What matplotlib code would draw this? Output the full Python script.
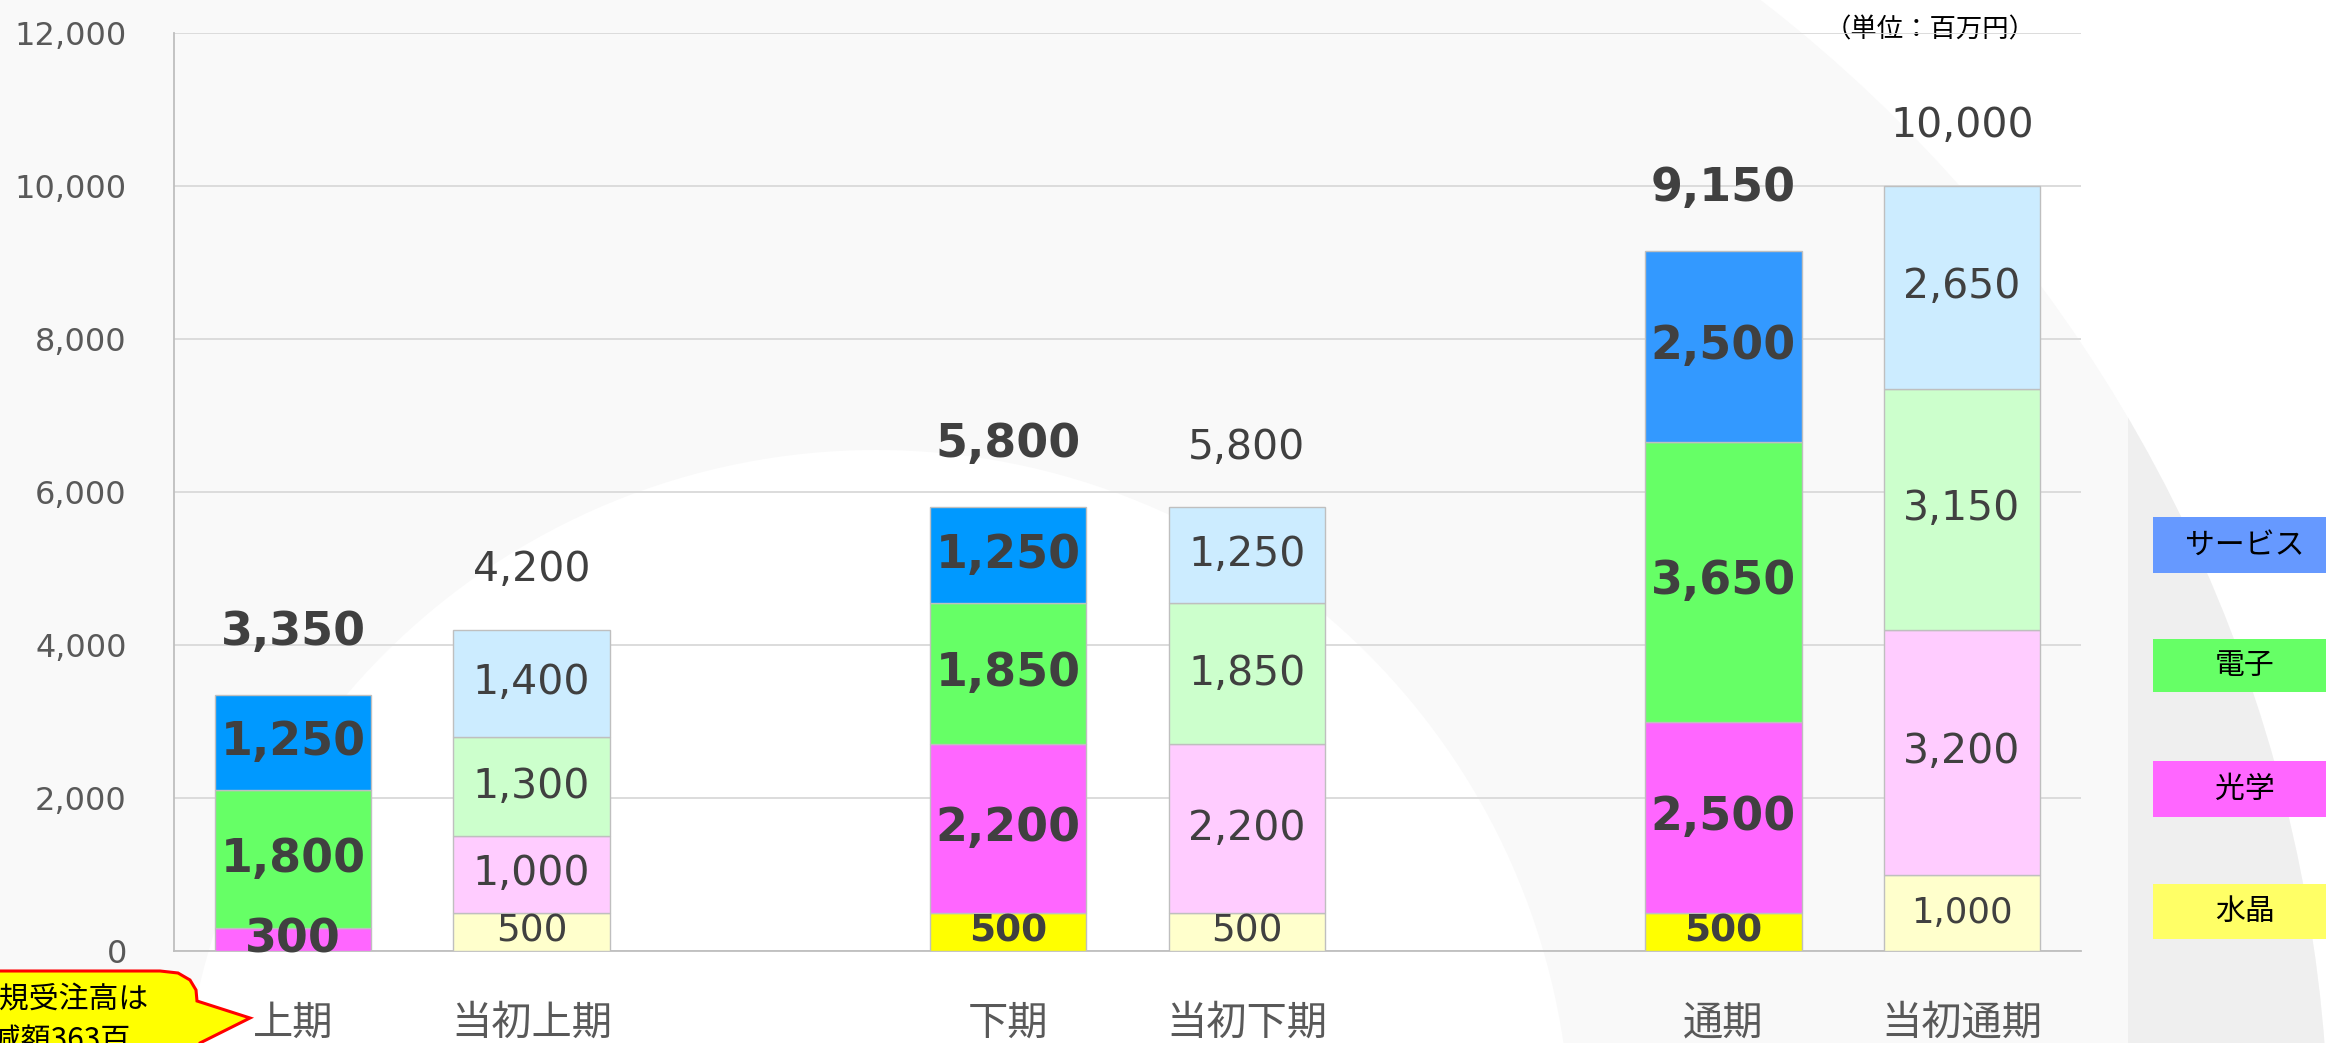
import matplotlib
matplotlib.use('Agg')
import matplotlib.pyplot as plt
import matplotlib.patches as mpatches
from matplotlib.ticker import FuncFormatter
import numpy as np

plt.rcParams['font.family'] = ['DejaVu Sans', 'Noto Sans CJK JP']
JP = ['Noto Sans CJK JP', 'DejaVu Sans']

# ---- data (百万円) ----
labels = ['上期', '当初上期', '下期', '当初下期', '通期', '当初通期']
is_plan = [False, True, False, True, False, True]
suishou = [0, 500, 500, 500, 500, 1000]       # 水晶
kougaku = [300, 1000, 2200, 2200, 2500, 3200]  # 光学
denshi = [1800, 1300, 1850, 1850, 3650, 3150]  # 電子
service = [1250, 1400, 1250, 1250, 2500, 2650] # サービス
legend_names = ['サービス', '電子', '光学', '水晶']
unit_label = '（単位：百万円）'
note_lines = ['新規受注高は', '増減額363百']

# styles
pos = [0, 1, 3, 4, 6, 7]
actual_cols = ['#FFFF00', '#FF66FF', '#66FF66']
actual_service = ['#0099FF', '#0099FF', '#3399FF']
plan_cols = ['#FFFFCC', '#FFCCFF', '#CCFFCC', '#CCECFF']
legend_cols = ['#6699FF', '#66FF66', '#FF66FF', '#FFFF66']
W, H = 2326, 1043

fig = plt.figure(figsize=(W / 100, H / 100), dpi=100)
fig.patch.set_facecolor('white')

# ---- background decoration (pixel coords) ----
bg = fig.add_axes([0, 0, 1, 1], zorder=0)
bg.set_xlim(0, W)
bg.set_ylim(H, 0)
bg.axis('off')
outer = mpatches.Circle((865, 1158), 1464, facecolor='#F9F9F9', edgecolor='none')
bg.add_patch(outer)
band = mpatches.Rectangle((2128, 0), 300, H, facecolor='#EFEFEF', edgecolor='none')
bg.add_patch(band)
band.set_clip_path(outer)
bg.add_patch(mpatches.Circle((876, 1145), 695, facecolor='white', edgecolor='none'))

# legend boxes
box_y = [517, 639, 761, 884]
box_h = [56, 53, 56, 55]
for name, c, y, h in zip(legend_names, legend_cols, box_y, box_h):
    bg.add_patch(mpatches.Rectangle((2153, y), 200, h, facecolor=c, edgecolor='none'))
    bg.text(2245, y + h / 2, name, ha='center', va='center', fontsize=21.5,
            color='black', family=JP)

bg.text(1930, 30, unit_label, ha='center', va='center', fontsize=19,
        color='black', family=JP)

# callout bubble (cut at left / bottom edge)
bubble = [(-20, 971), (160, 971), (178, 973), (190, 980), (196, 990),
          (197, 1001), (250, 1018), (200, 1043), (200, 1070), (-20, 1070)]
bg.add_patch(mpatches.Polygon(bubble, closed=True, facecolor='#FFFF00',
                              edgecolor='#FF0000', lw=2.2, zorder=5))
bg.text(-31, 1000, note_lines[0], ha='left', va='center', fontsize=21.5,
        color='black', family=JP, zorder=6)
bg.text(-38, 1040, note_lines[1], ha='left', va='center', fontsize=21.5,
        color='black', family=JP, zorder=6)

# ---- main chart ----
ax = fig.add_axes([174 / W, (H - 951) / H, (2081 - 174) / W, 918 / H], zorder=1)
ax.set_facecolor('none')
ax.set_xlim(-0.5, 7.5)
ax.set_ylim(0, 12000)

bw = 0.655
stack = np.array([suishou, kougaku, denshi, service])
ai = 0
for i in range(len(labels)):
    bottom = 0
    for s in range(4):
        v = stack[s][i]
        if is_plan[i]:
            c = plan_cols[s]
        elif s < 3:
            c = actual_cols[s]
        else:
            c = actual_service[ai]
        if v > 0:
            ax.bar(pos[i], v, bw, bottom=bottom, color=c, edgecolor='#BFBFBF',
                   linewidth=1, zorder=3)
            txt = f'{v:,}'
            if is_plan[i]:
                fs = 29.5
                if s == 0:
                    fs = 27 if v == 500 else 25.5
                ax.text(pos[i], bottom + v / 2, txt, ha='center', va='center',
                        fontsize=fs, color='#404040', zorder=4)
            else:
                fs = 27 if s == 0 else 33
                ax.text(pos[i], bottom + v / 2, txt, ha='center', va='center',
                        fontsize=fs, fontweight='bold', color='#404040', zorder=4)
        bottom += v
    ax.annotate(f'{bottom:,}', (pos[i], bottom),
                xytext=(0, 43 if is_plan[i] else 45),
                textcoords='offset points', ha='center', va='center',
                fontsize=29.5 if is_plan[i] else 33,
                fontweight='normal' if is_plan[i] else 'bold',
                color='#404040', zorder=4)
    if not is_plan[i]:
        ai += 1

ax.set_yticks(range(0, 12001, 2000))
ax.yaxis.set_major_formatter(FuncFormatter(lambda v, p: f'{int(v):,}'))
ax.set_xticks(pos)
ax.set_xticklabels(labels, family=JP)
ax.tick_params(axis='y', length=0, pad=34, labelsize=23, labelcolor='#595959')
ax.tick_params(axis='x', length=0, pad=37, labelsize=29, labelcolor='#595959')
ax.grid(axis='y', color='#D9D9D9', lw=1.3, zorder=0)
ax.set_axisbelow(True)
for sp in ['top', 'right']:
    ax.spines[sp].set_visible(False)
for sp in ['left', 'bottom']:
    ax.spines[sp].set_color('#BFBFBF')
    ax.spines[sp].set_linewidth(1.3)

fig.savefig('out.png', dpi=100, facecolor=fig.get_facecolor())
